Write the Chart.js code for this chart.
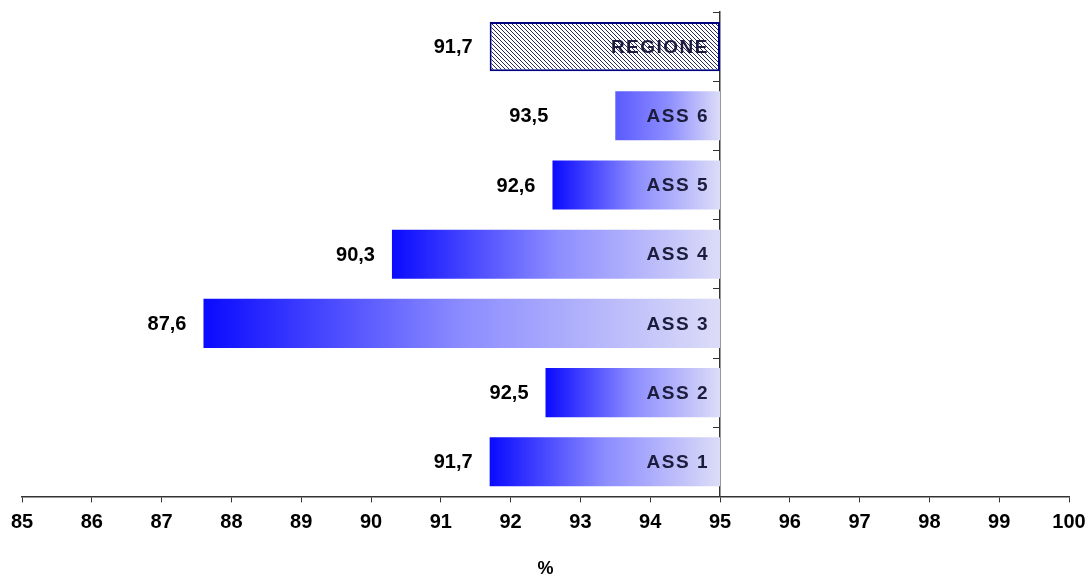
<!DOCTYPE html>
<html>
<head>
<meta charset="utf-8">
<script src="https://cdn.jsdelivr.net/npm/chart.js@4.4.1/dist/chart.umd.min.js"></script>
<style>
  html, body { margin: 0; padding: 0; background: #fff; }
  #wrap { width: 1089px; height: 580px; }
</style>
</head>
<body>
<div id="wrap"><canvas id="chart"></canvas></div>
<script>
// data (top to bottom)
const categories = ['REGIONE', 'ASS 6', 'ASS 5', 'ASS 4', 'ASS 3', 'ASS 2', 'ASS 1'];
const values = [91.7, 93.5, 92.6, 90.3, 87.6, 92.5, 91.7];
const baseValue = 95;
const xMin = 85;
const xMax = 100;
const xTitle = '%';

// gap between value label and bar left edge (ASS 6 label sits further out)
const labelGaps = [17, 67, 17, 17, 17, 17, 17];
const gradientStarts = ['#0a0aff', '#5a5aff', '#0a0aff', '#0a0aff', '#0a0aff', '#0a0aff', '#0a0aff'];
const FONT = '"Liberation Sans", Arial, sans-serif';

function makeHatch() {
  const c = document.createElement('canvas');
  c.width = 4;
  c.height = 4;
  const g = c.getContext('2d');
  g.fillStyle = '#ffffff';
  g.fillRect(0, 0, 4, 4);
  g.fillStyle = '#2a2a60';
  for (let i = 0; i < 4; i++) g.fillRect(i, i, 1, 1);
  return g.createPattern(c, 'repeat');
}

const hatch = makeHatch();

function barFill(ctx) {
  const i = ctx.dataIndex;
  if (i === 0) return hatch;
  const chart = ctx.chart;
  const xs = chart.scales.x;
  if (!chart.chartArea || !xs) return '#8080ff';
  const x0 = xs.getPixelForValue(values[i]);
  const x1 = xs.getPixelForValue(baseValue);
  const grad = chart.ctx.createLinearGradient(x0, 0, x1, 0);
  grad.addColorStop(0, gradientStarts[i]);
  grad.addColorStop(0.5, '#8c8cff');
  grad.addColorStop(1, '#dcdcf8');
  return grad;
}

const barLabels = {
  id: 'barLabels',
  afterDatasetsDraw(chart) {
    const ctx = chart.ctx;
    const xs = chart.scales.x;
    const meta = chart.getDatasetMeta(0);
    const right = xs.getPixelForValue(baseValue);
    ctx.save();
    ctx.textBaseline = 'middle';
    meta.data.forEach((bar, i) => {
      const y = bar.y;
      const left = xs.getPixelForValue(values[i]);
      // category name inside the bar
      ctx.font = 'bold 19px ' + FONT;
      ctx.letterSpacing = '1.5px';
      ctx.textAlign = 'right';
      ctx.fillStyle = '#1c1c3c';
      ctx.fillText(categories[i], right - 11, y + 1);
      // value left of the bar
      ctx.font = 'bold 20px ' + FONT;
      ctx.letterSpacing = '0px';
      ctx.fillStyle = '#000';
      ctx.fillText(values[i].toFixed(1).replace('.', ','), left - labelGaps[i], y + 1);
    });
    ctx.restore();
  }
};

new Chart(document.getElementById('chart'), {
  type: 'bar',
  data: {
    labels: categories,
    datasets: [{
      data: values.map(v => [v, baseValue]),
      backgroundColor: barFill,
      borderColor: ctx => ctx.dataIndex === 0 ? '#000080' : 'rgba(0,0,0,0)',
      borderWidth: ctx => ctx.dataIndex === 0 ? 2 : 0,
      borderSkipped: false,
      barPercentage: 0.71,
      categoryPercentage: 1
    }]
  },
  options: {
    indexAxis: 'y',
    responsive: true,
    maintainAspectRatio: false,
    animation: false,
    layout: { padding: { left: 0, right: 0, top: 12, bottom: 0 } },
    plugins: {
      legend: { display: false },
      tooltip: { enabled: false }
    },
    scales: {
      x: {
        type: 'linear',
        position: 'bottom',
        min: xMin,
        max: xMax,
        afterFit(scale) {
          scale.paddingLeft = 22;
          scale.paddingRight = 20;
        },
        ticks: {
          stepSize: 1,
          color: '#000',
          padding: 8,
          font: { family: FONT, size: 20, weight: 'bold' }
        },
        grid: { display: true, drawOnChartArea: false, tickLength: 6, color: '#333' },
        border: { display: true, color: '#333', width: 1.5 },
        title: {
          display: true,
          text: xTitle,
          color: '#000',
          padding: { top: 16, bottom: 0 },
          font: { family: FONT, size: 18, weight: 'bold' }
        }
      },
      y: {
        position: { x: baseValue },
        offset: true,
        ticks: { display: false },
        grid: { display: true, drawOnChartArea: false, tickLength: 6, color: '#333', offset: true },
        border: { display: true, color: '#333', width: 1.5 }
      }
    }
  },
  plugins: [barLabels]
});
</script>
</body>
</html>
